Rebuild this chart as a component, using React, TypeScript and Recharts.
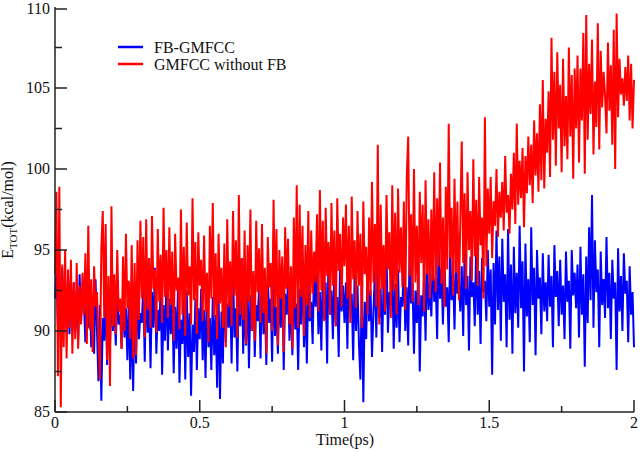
import React from 'react';
import { LineChart, Line, XAxis, YAxis, Legend } from 'recharts';

// E_TOT (kcal/mol) sampled every 0.005 ps from 0 to 2 ps
const fbGmfcc = [
  92.0, 93.6, 90.4, 92.8, 89.6, 93.9, 91.0, 92.5, 90.2, 93.2, 89.8, 92.7, 91.3, 93.0, 90.0, 92.2, 89.4, 93.5, 90.6, 92.4,
  91.8, 89.3, 93.0, 90.2, 92.4, 89.0, 91.5, 88.6, 93.2, 90.1, 86.9, 91.6, 85.7, 90.8, 89.4, 92.0, 87.9, 91.2, 89.2, 92.5,
  90.0, 91.7, 89.1, 92.6, 90.4, 91.0, 88.9, 92.2, 89.6, 91.4, 88.2, 92.0, 87.0, 91.5, 86.3, 91.9, 88.0, 92.5, 89.5, 91.1,
  90.5, 92.8, 88.1, 93.6, 89.9, 91.8, 87.7, 92.4, 90.2, 93.9, 88.6, 91.3, 90.0, 92.7, 87.3, 91.6, 89.4, 93.1, 88.8, 92.0,
  89.8, 92.3, 87.4, 91.5, 88.9, 92.8, 86.8, 90.7, 89.2, 91.9, 87.0, 92.5, 88.4, 91.1, 86.0, 90.4, 88.7, 92.0, 87.6, 91.4,
  89.5, 92.6, 88.2, 91.3, 87.1, 92.9, 89.0, 90.8, 87.6, 92.1, 88.5, 91.0, 86.5, 92.4, 85.8, 91.2, 88.0, 93.3, 89.3, 91.7,
  90.2, 92.5, 88.0, 93.8, 89.6, 91.4, 87.5, 92.9, 90.3, 94.5, 88.6, 91.8, 89.1, 93.0, 87.7, 92.2, 90.0, 93.5, 88.4, 91.6,
  90.6, 92.7, 88.3, 94.2, 89.8, 91.9, 87.9, 93.4, 90.5, 92.0, 88.1, 93.7, 89.7, 91.5, 88.6, 92.8, 90.2, 94.0, 87.6, 92.3,
  91.0, 93.1, 89.4, 92.0, 88.5, 93.8, 90.1, 91.7, 87.6, 92.6, 90.4, 94.4, 89.0, 92.2, 88.0, 93.3, 90.6, 91.8, 89.2, 94.2,
  91.5, 93.6, 89.8, 92.4, 88.8, 94.0, 90.7, 93.0, 88.0, 95.2, 91.0, 92.5, 89.5, 93.9, 90.3, 92.1, 88.4, 94.6, 91.2, 92.8,
  90.5, 93.0, 88.9, 94.5, 91.3, 92.3, 88.2, 93.6, 90.0, 92.8, 89.2, 87.0, 93.4, 85.6, 91.8, 89.5, 94.0, 90.6, 92.5, 88.4,
  91.2, 93.7, 89.6, 94.9, 90.8, 92.6, 88.7, 93.3, 91.0, 95.0, 89.9, 92.4, 91.6, 94.2, 88.9, 92.9, 90.2, 93.8, 89.3, 92.1,
  91.5, 94.4, 90.0, 92.7, 89.1, 95.3, 91.7, 93.0, 88.6, 92.5, 90.5, 94.1, 87.5, 92.2, 90.9, 93.6, 89.4, 95.0, 91.3, 92.8,
  90.9, 94.6, 91.8, 93.2, 89.5, 95.4, 92.0, 93.9, 90.4, 94.3, 91.5, 92.7, 89.3, 95.0, 91.9, 93.5, 90.1, 94.8, 92.3, 93.0,
  91.2, 94.0, 89.7, 95.3, 91.6, 93.4, 88.8, 94.6, 92.1, 93.0, 90.3, 95.5, 91.0, 93.7, 89.2, 94.5, 92.4, 93.1, 90.6, 95.0,
  91.5, 93.8, 87.3, 94.2, 90.4, 96.2, 91.3, 94.6, 89.4, 95.7, 91.8, 93.5, 89.0, 96.3, 90.7, 94.1, 88.6, 95.2, 91.1, 93.6,
  90.2, 96.5, 91.4, 94.3, 87.5, 95.4, 90.9, 93.2, 89.3, 96.4, 91.6, 93.9, 88.5, 95.0, 92.0, 93.3, 89.8, 94.8, 91.2, 93.0,
  90.6, 94.7, 91.5, 93.4, 89.0, 95.3, 92.1, 93.7, 90.3, 94.4, 91.0, 92.8, 89.5, 94.9, 91.8, 93.1, 88.9, 95.0, 92.2, 93.6,
  91.4, 94.1, 89.6, 95.2, 91.0, 93.5, 87.8, 94.6, 90.5, 96.4, 91.9, 98.4, 90.2, 95.6, 92.4, 93.8, 89.0, 94.9, 91.6, 93.2,
  90.8, 95.8, 91.4, 93.6, 89.5, 94.4, 92.0, 93.0, 87.6, 95.1, 91.2, 93.4, 90.0, 94.8, 92.3, 93.1, 89.3, 94.0, 91.0, 92.4, 89.0,
];

const gmfccNoFb = [
  93.5, 98.6, 87.2, 98.9, 85.3, 94.1, 89.0, 95.0, 88.3, 93.8, 90.2, 94.4, 88.6, 93.0, 89.5, 94.2, 88.9, 92.8, 90.4, 93.6,
  91.0, 94.8, 89.2, 96.5, 90.1, 93.2, 88.7, 94.0, 91.5, 92.4, 89.6, 87.0, 95.1, 97.4, 90.8, 96.6, 88.2, 93.4, 86.6, 97.7,
  90.3, 93.5, 89.8, 95.0, 91.2, 92.0, 88.9, 94.6, 90.0, 96.0, 91.4, 93.1, 89.5, 95.3, 88.3, 94.2, 88.5, 95.6, 90.7, 96.8,
  92.0, 95.8, 89.6, 96.9, 91.3, 94.5, 90.2, 97.1, 92.6, 93.8, 89.9, 96.3, 91.8, 94.7, 90.5, 97.6, 92.1, 95.0, 90.8, 96.4,
  91.6, 94.9, 89.4, 96.0, 92.5, 93.3, 90.1, 97.5, 91.0, 95.2, 89.7, 96.7, 92.2, 94.0, 90.4, 98.2, 91.9, 95.5, 89.8, 96.1,
  92.8, 94.4, 90.6, 95.9, 91.2, 93.6, 89.3, 96.5, 92.0, 97.9, 90.9, 94.8, 89.5, 96.0, 91.7, 93.9, 90.2, 95.4, 89.0, 96.9,
  91.5, 94.3, 90.3, 97.4, 92.2, 95.6, 89.6, 98.4, 91.0, 94.5, 90.7, 96.2, 89.2, 95.3, 91.8, 97.5, 90.0, 93.7, 89.4, 96.8,
  92.4, 95.1, 90.5, 96.6, 91.1, 93.9, 88.6, 95.8, 92.7, 94.2, 90.0, 98.1, 91.5, 96.3, 89.1, 95.0, 92.0, 94.6, 88.7, 96.4,
  92.6, 95.7, 90.4, 94.0, 88.9, 97.0, 91.4, 99.0, 90.2, 97.8, 92.1, 96.5, 89.7, 95.3, 91.6, 97.4, 90.8, 96.2, 92.3, 94.9,
  93.0, 97.2, 91.2, 98.7, 92.5, 96.8, 90.6, 97.6, 93.4, 95.5, 91.0, 97.9, 92.8, 96.2, 90.3, 98.2, 93.7, 96.0, 91.5, 97.0,
  94.0, 97.8, 92.0, 96.5, 90.5, 98.3, 93.2, 95.6, 91.4, 97.4, 92.8, 96.0, 90.2, 98.0, 93.5, 95.2, 91.0, 97.0, 92.2, 99.2,
  93.0, 96.6, 91.5, 101.5, 90.4, 97.8, 92.6, 95.3, 91.2, 98.4, 93.8, 96.1, 90.8, 99.0, 92.5, 97.3, 91.0, 98.8, 93.6, 96.4,
  92.7, 98.0, 91.3, 99.5, 102.0, 93.4, 97.2, 91.8, 100.0, 93.0, 96.5, 91.6, 98.6, 94.2, 97.8, 91.2, 99.3, 93.5, 96.9, 92.0,
  97.5, 93.1, 99.8, 92.4, 98.2, 94.0, 100.4, 92.9, 97.0, 91.5, 98.9, 93.8, 102.8, 94.5, 97.6, 92.2, 99.4, 93.6, 98.0, 91.9,
  96.8, 101.7, 94.2, 98.5, 92.6, 99.8, 95.0, 97.4, 93.1, 100.6, 94.6, 98.1, 92.8, 99.5, 95.3, 97.0, 92.0, 103.2, 94.0, 98.8,
  96.0, 99.5, 94.5, 98.0, 96.5, 100.0, 95.8, 98.6, 97.0, 99.2, 96.2, 100.8, 97.3, 98.4, 96.0, 99.7, 97.5, 101.0, 96.6, 102.8,
  97.8, 100.5, 98.2, 101.3, 96.4, 100.8, 98.5, 102.0, 99.0, 101.5, 97.9, 103.0, 99.6, 102.2, 98.6, 104.0, 99.3, 105.5, 98.8, 103.1,
  101.0, 104.8, 99.5, 108.1, 101.8, 106.0, 100.2, 107.2, 102.5, 105.2, 99.8, 106.8, 101.4, 104.5, 100.6, 107.5, 102.0, 105.8, 99.4, 106.2,
  102.5, 107.0, 100.4, 106.2, 103.0, 108.4, 99.7, 109.5, 101.8, 106.5, 103.4, 108.0, 100.9, 105.4, 102.6, 109.0, 101.2, 107.3, 103.8, 106.0,
  104.5, 102.2, 107.8, 103.6, 106.4, 101.5, 108.6, 100.0, 109.6, 103.2, 106.8, 104.6, 105.6, 103.9, 106.3, 104.2, 107.0, 103.0, 106.5, 102.5, 105.5,
];

const xTicks = [0, 0.25, 0.5, 0.75, 1, 1.25, 1.5, 1.75, 2];
const yTicks = [85, 87.5, 90, 92.5, 95, 97.5, 100, 102.5, 105, 107.5, 110];

const T_END = 2;
const toSeries = (vals: number[]) =>
  vals.map((v, i) => ({ t: (i * T_END) / (vals.length - 1), e: v }));

const fbData = toSeries(fbGmfcc);
const noFbData = toSeries(gmfccNoFb);

const SERIF = 'Liberation Serif, Times New Roman, Times, DejaVu Serif, serif';
const txt = { fontFamily: SERIF, fontSize: 16, fill: '#111' };
const AXIS = '#222';

const isMajor = (v: number, step: number) => Math.abs(v / step - Math.round(v / step)) < 1e-6;

const BottomTick = (props: any) => {
  const { x, y, payload } = props;
  const major = isMajor(payload.value, 0.5);
  return (
    <g>
      <line x1={x} x2={x} y1={y} y2={y - (major ? 12 : 6)} stroke={AXIS} strokeWidth={1.5} />
      {major && (
        <text x={x} y={y + 16} textAnchor="middle" fontFamily={SERIF} fontSize={16} fill="#111">
          {payload.value}
        </text>
      )}
    </g>
  );
};

const TopTick = (props: any) => {
  const { x, y, payload } = props;
  const major = isMajor(payload.value, 0.5);
  return <line x1={x} x2={x} y1={y} y2={y + (major ? 12 : 6)} stroke={AXIS} strokeWidth={1.5} />;
};

const LeftTick = (props: any) => {
  const { x, y, payload } = props;
  const major = isMajor(payload.value, 5);
  return (
    <g>
      <line x1={x} x2={x + (major ? 12 : 7)} y1={y} y2={y} stroke={AXIS} strokeWidth={1.5} />
      {major && (
        <text x={x - 5} y={y + 5} textAnchor="end" fontFamily={SERIF} fontSize={16} fill="#111">
          {payload.value}
        </text>
      )}
    </g>
  );
};

const RightTick = (props: any) => {
  const { x, y, payload } = props;
  const major = isMajor(payload.value, 5);
  return <line x1={x} x2={x - (major ? 12 : 7)} y1={y} y2={y} stroke={AXIS} strokeWidth={1.5} />;
};

const YTitle = () => (
  <text transform="translate(13, 210) rotate(-90)" textAnchor="middle" fontFamily={SERIF} fontSize={16} fill="#111">
    E
    <tspan fontSize={11} dy={4}>TOT</tspan>
    <tspan dy={-4}>(kcal/mol)</tspan>
  </text>
);

const XTitle = () => (
  <text x={345} y={445} textAnchor="middle" fontFamily={SERIF} fontSize={16} fill="#111">
    Time(ps)
  </text>
);

const legendItems = [
  { label: 'FB-GMFCC', color: '#0000ff' },
  { label: 'GMFCC without FB', color: '#ff0000' },
];

const LegendBox = () => (
  <svg width={220} height={40} style={{ display: 'block' }}>
    {legendItems.map((it, i) => (
      <g key={it.label}>
        <line x1={0} x2={25} y1={9 + i * 17} y2={9 + i * 17} stroke={it.color} strokeWidth={2.5} />
        <text x={36} y={15 + i * 17} fontFamily={SERIF} fontSize={16} fill="#111">
          {it.label}
        </text>
      </g>
    ))}
  </svg>
);

export default function App() {
  return (
    <div style={{ position: 'absolute', left: 0, top: 0, width: 640, height: 452, background: '#fff', fontFamily: SERIF }}>
      <LineChart width={640} height={452} margin={{ top: 7, right: 6, bottom: 0, left: 0 }}>
        <XAxis
          dataKey="t"
          type="number"
          domain={[0, 2]}
          ticks={xTicks}
          height={40}
          tickSize={0}
          tickMargin={0}
          tick={<BottomTick />}
          axisLine={{ stroke: AXIS, strokeWidth: 1.5 }}
          allowDuplicatedCategory={false}
          label={{ content: <XTitle /> }}
        />
        <XAxis
          xAxisId="top"
          orientation="top"
          dataKey="t"
          type="number"
          domain={[0, 2]}
          ticks={xTicks}
          height={0}
          tickSize={0}
          tickMargin={0}
          tick={<TopTick />}
          axisLine={{ stroke: AXIS, strokeWidth: 1.5 }}
        />
        <YAxis
          type="number"
          domain={[85, 110]}
          ticks={yTicks}
          width={55}
          tickSize={0}
          tickMargin={0}
          tick={<LeftTick />}
          axisLine={{ stroke: AXIS, strokeWidth: 1.5 }}
          label={{ content: <YTitle /> }}
        />
        <YAxis
          yAxisId="right"
          orientation="right"
          type="number"
          domain={[85, 110]}
          ticks={yTicks}
          width={0}
          tickSize={0}
          tickMargin={0}
          tick={<RightTick />}
          axisLine={{ stroke: AXIS, strokeWidth: 1.5 }}
        />
        <Legend
          layout="vertical"
          align="center"
          verticalAlign="middle"
          content={<LegendBox />}
          wrapperStyle={{ position: 'absolute', left: 118, top: 38, width: 220, height: 40 }}
        />
        <Line
          data={fbData}
          dataKey="e"
          name="FB-GMFCC"
          stroke="#0000ff"
          strokeWidth={2}
          dot={false}
          isAnimationActive={false}
        />
        <Line
          data={noFbData}
          dataKey="e"
          name="GMFCC without FB"
          stroke="#ff0000"
          strokeWidth={2}
          dot={false}
          isAnimationActive={false}
        />
      </LineChart>
    </div>
  );
}
